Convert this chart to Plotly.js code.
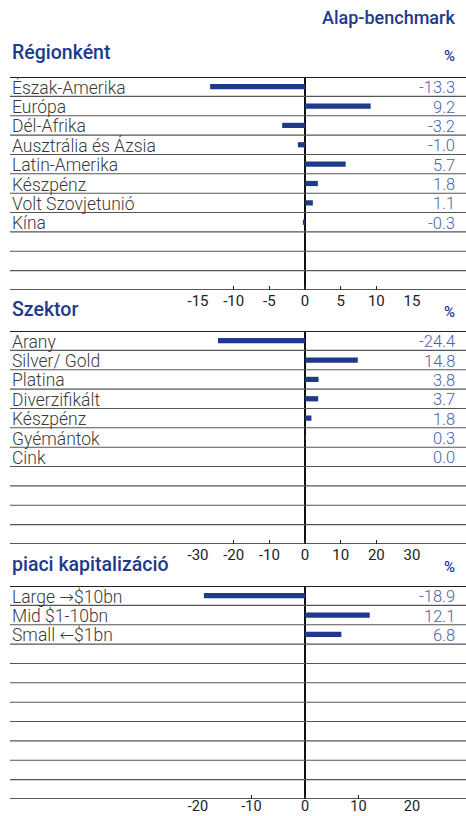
<!DOCTYPE html>
<html><head><meta charset="utf-8">
<script src="https://cdn.plot.ly/plotly-3.0.1.min.js"></script>
<style>html,body{margin:0;padding:0;background:#fff}#chart{width:466px;height:816px}</style>
</head><body><div id="chart"></div>
<script>
// ---- data ----
const headerTitle = "Alap-benchmark";
const unitLabel = "%";
const sectionTitles = ["Régionként", "Szektor", "piaci kapitalizáció"];

const regionLabels = ["Észak-Amerika", "Európa", "Dél-Afrika", "Ausztrália és Ázsia", "Latin-Amerika", "Készpénz", "Volt Szovjetunió", "Kína"];
const regionValues = [-13.3, 9.2, -3.2, -1.0, 5.7, 1.8, 1.1, -0.3];
const regionTicks = [-15, -10, -5, 0, 5, 10, 15];

const sectorLabels = ["Arany", "Silver/ Gold", "Platina", "Diverzifikált", "Készpénz", "Gyémántok", "Cink"];
const sectorValues = [-24.4, 14.8, 3.8, 3.7, 1.8, 0.3, 0.0];
const sectorTicks = [-30, -20, -10, 0, 10, 20, 30];

const capLabels = ["Large \u2192$10bn", "Mid $1-10bn", "Small \u2190$1bn"];
const capValues = [-18.9, 12.1, 6.8];
const capTicks = [-20, -10, 0, 10, 20];

// ---- layout / style ----
const W = 466, H = 816;
const ROWS = 11;
const panelTops = [77, 331, 586];
const panelH = 213;
const plotLeft = 198, plotRight = 412;
const BLUE = "#1d3a8c";
const VALBLUE = "#4b62a8";
const LABEL = "#3a3a3a";
const FONT = "Roboto, 'DejaVu Sans', sans-serif";
const py = p => 1 - p / H;

const panels = [
  {labels: regionLabels, values: regionValues, ticks: regionTicks},
  {labels: sectorLabels, values: sectorValues, ticks: sectorTicks},
  {labels: capLabels, values: capValues, ticks: capTicks}
];

const data = [];
const layout = {
  width: W, height: H,
  margin: {l: 0, r: 0, t: 0, b: 0},
  paper_bgcolor: "#fff", plot_bgcolor: "rgba(0,0,0,0)",
  showlegend: false,
  font: {family: FONT},
  shapes: [], annotations: []
};

panels.forEach((p, k) => {
  const sfx = k === 0 ? "" : String(k + 1);
  const xa = "x" + sfx, ya = "y" + sfx;
  const maxT = Math.max(...p.ticks.map(Math.abs));
  data.push({
    type: "bar", orientation: "h",
    x: p.values,
    y: p.values.map((v, i) => i + 0.5),
    width: 0.27,
    marker: {color: BLUE},
    xaxis: xa, yaxis: ya,
    hoverinfo: "skip"
  });
  const top = panelTops[k];
  layout["xaxis" + sfx] = {
    domain: [plotLeft / W, plotRight / W],
    range: [-maxT, maxT],
    anchor: ya,
    showgrid: false,
    zeroline: true, zerolinecolor: "#111", zerolinewidth: 2,
    showline: false,
    ticks: "inside", ticklen: 4, tickwidth: 1.5, tickcolor: "#222",
    tickvals: p.ticks,
    ticktext: p.ticks.map(t => String(t)),
    tickfont: {family: FONT, size: k === 2 ? 14.5 : 15, color: "#222", weight: 400},
    ticklabelstandoff: k === 2 ? -4 : 0,
    fixedrange: true
  };
  layout["yaxis" + sfx] = {
    domain: [py(top + panelH), py(top)],
    range: [ROWS, 0],
    anchor: xa,
    showgrid: false, zeroline: false, showline: false,
    showticklabels: false, ticks: "",
    fixedrange: true
  };
  for (let r = 0; r <= ROWS; r++) {
    layout.shapes.push({
      type: "line", xref: "paper", yref: ya,
      x0: 10 / W, x1: 1, y0: r, y1: r,
      line: {color: r === 0 || r === ROWS ? "#222" : "#555", width: r === 0 ? 2 : (r === ROWS ? 1.5 : 1.1)}
    });
  }
  p.labels.forEach((lab, i) => {
    layout.annotations.push({
      xref: "paper", yref: ya, x: 10 / W, y: i + 0.5,
      xanchor: "left", yanchor: "middle", showarrow: false, yshift: -1,
      text: lab, font: {family: FONT, size: 17.5, color: LABEL, weight: 300}
    });
    layout.annotations.push({
      xref: "paper", yref: ya, x: 457 / W, y: i + 0.5,
      xanchor: "right", yanchor: "middle", showarrow: false, yshift: -1,
      text: p.values[i].toFixed(1), font: {family: FONT, size: 16.5, color: VALBLUE, weight: 300}
    });
  });
  const titleY = [53, 309, 564][k];
  layout.annotations.push({
    xref: "paper", yref: "paper", x: 10 / W, y: py(titleY),
    xanchor: "left", yanchor: "middle", showarrow: false,
    text: sectionTitles[k], font: {family: FONT, size: 19.5, color: BLUE, weight: 500}
  });
  layout.annotations.push({
    xref: "paper", yref: "paper", x: 457 / W, y: py(titleY + 3),
    xanchor: "right", yanchor: "middle", showarrow: false,
    text: unitLabel, font: {family: FONT, size: 15, color: BLUE, weight: 500}
  });
});

layout.annotations.push({
  xref: "paper", yref: "paper", x: 457 / W, y: py(17),
  xanchor: "right", yanchor: "middle", showarrow: false,
  text: headerTitle, font: {family: FONT, size: 18, color: BLUE, weight: 500}
});

Plotly.newPlot("chart", data, layout, {displayModeBar: false, staticPlot: true});
</script>
</body></html>
